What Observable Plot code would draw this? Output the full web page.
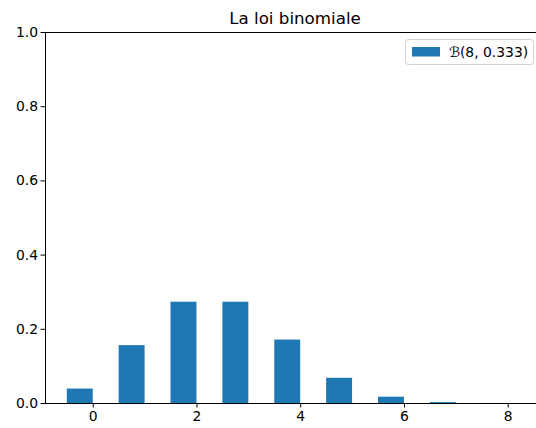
<!DOCTYPE html>
<html>
<head>
<meta charset="utf-8">
<script src="https://cdn.jsdelivr.net/npm/d3@7"></script>
<script src="https://cdn.jsdelivr.net/npm/@observablehq/plot@0.6"></script>
<style>
  html, body { margin: 0; padding: 0; background: #fff; }
  svg { font-family: "DejaVu Sans", sans-serif; }
</style>
</head>
<body>
<div id="chart"></div>
<script>
const ks = [0, 1, 2, 3, 4, 5, 6, 7, 8];
const probs = [0.039, 0.156, 0.273, 0.273, 0.171, 0.068, 0.017, 0.0024, 0.00015];
const xTicks = [0, 2, 4, 6, 8];
const yTicks = [0, 0.2, 0.4, 0.6, 0.8, 1.0];
const titleText = "La loi binomiale";
const legendLabel = "ℬ(8, 0.333)";
const barColor = "#1f77b4";

const data = ks.map((k, i) => ({k, p: probs[i]}));

const chart = Plot.plot({
  width: 536,
  height: 428,
  marginTop: 32,
  marginLeft: 45,
  marginRight: 0,
  marginBottom: 25,
  style: {fontFamily: "DejaVu Sans, sans-serif", fontSize: "13.9px", color: "#000", background: "#fff"},
  x: {domain: [-0.92, 8.546], ticks: xTicks, tickFormat: d => String(d), label: null, tickSize: 4.5, tickPadding: 3},
  y: {domain: [0, 1], ticks: yTicks, tickFormat: d => d.toFixed(1), label: null, tickSize: 4.5, tickPadding: 3},
  marks: [
    Plot.rectY(data, {x1: d => d.k - 0.5, x2: d => d.k, y1: 0, y2: "p", fill: barColor}),
    Plot.ruleX([-0.92], {stroke: "#000", strokeWidth: 1}),
    Plot.ruleY([0], {stroke: "#000", strokeWidth: 1}),
    Plot.ruleY([1], {stroke: "#000", strokeWidth: 1})
  ]
});

const svg = d3.select(chart);
svg.selectAll("[aria-label='x-axis tick label'], [aria-label='y-axis tick label']")
  .attr("font-size", "13.9px").attr("fill", "#000");

svg.append("text")
  .attr("x", 295).attr("y", 24)
  .attr("text-anchor", "middle")
  .attr("font-size", "16.7px")
  .attr("fill", "#000")
  .text(titleText);

const lg = svg.append("g");
lg.append("rect")
  .attr("x", 405.5).attr("y", 39.5).attr("width", 128).attr("height", 25)
  .attr("rx", 3).attr("fill", "#fff").attr("fill-opacity", 0.8)
  .attr("stroke", "#d0d0d0");
lg.append("rect")
  .attr("x", 412).attr("y", 47).attr("width", 28).attr("height", 9.5)
  .attr("fill", barColor);
lg.append("text")
  .attr("x", 449).attr("y", 52).attr("dy", "0.35em")
  .attr("text-anchor", "start")
  .attr("font-size", "13.9px").attr("fill", "#000")
  .text(legendLabel);

document.getElementById("chart").appendChild(chart);
</script>
</body>
</html>
